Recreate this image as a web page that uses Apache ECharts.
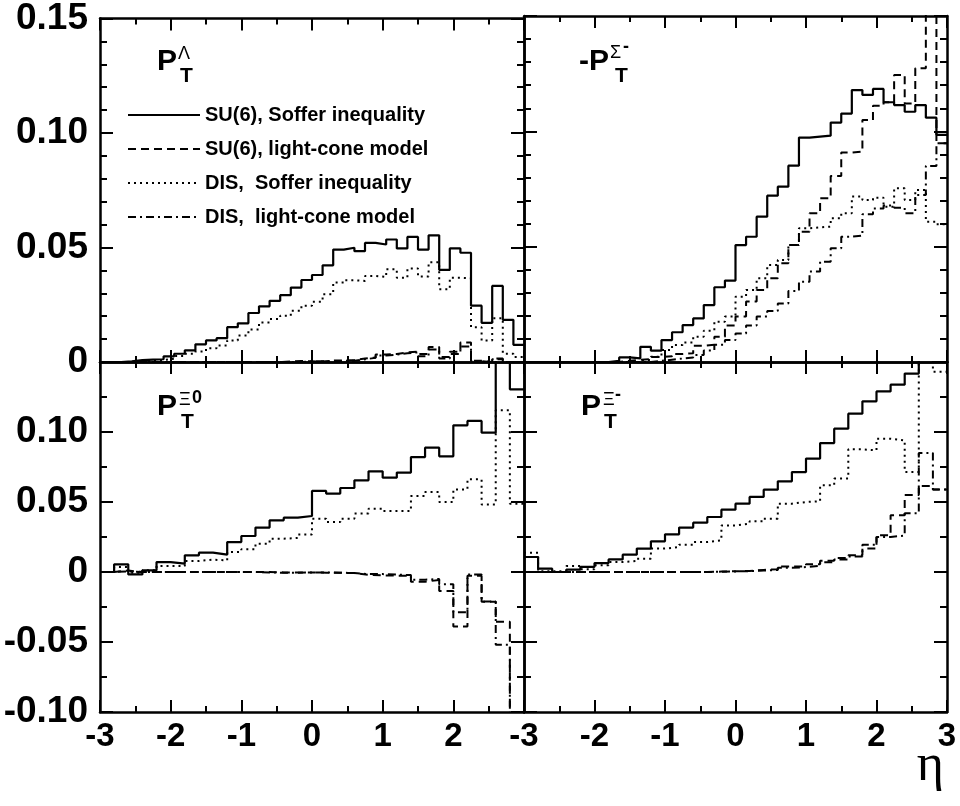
<!DOCTYPE html>
<html><head><meta charset="utf-8">
<script src="https://cdn.jsdelivr.net/npm/echarts@6/dist/echarts.min.js"></script>
<style>html,body{margin:0;padding:0;background:#fff}#c{width:960px;height:806px}</style>
</head><body><div id="c"></div>
<script>
// bin edges
const edgesTop = [-3,-2.85,-2.7,-2.55,-2.4,-2.25,-2.1,-1.95,-1.8,-1.65,-1.5,-1.35,-1.2,-1.05,-0.9,-0.75,-0.6,-0.45,-0.3,-0.15,0,0.15,0.3,0.45,0.6,0.75,0.9,1.05,1.2,1.35,1.5,1.65,1.8,1.95,2.1,2.25,2.4,2.55,2.7,2.85,3];
const edgesBot = [-3,-2.8,-2.6,-2.4,-2.2,-2,-1.8,-1.6,-1.4,-1.2,-1,-0.8,-0.6,-0.4,-0.2,0,0.2,0.4,0.6,0.8,1,1.2,1.4,1.6,1.8,2,2.2,2.4,2.6,2.8,3];

const seriesNames = ['SU(6), Soffer inequality','SU(6), light-cone model','DIS,  Soffer inequality','DIS,  light-cone model'];
const xTickLabels = ['-3','-2','-1','0','1','2','3'];

// Lambda panel (top left)
const lamSU6Soffer = [0,0,0.0003,0.0008,0.001,0.0012,0.0025,0.0036,0.0051,0.0077,0.0094,0.0104,0.0152,0.0169,0.0214,0.0243,0.0267,0.0292,0.0325,0.0358,0.038,0.0422,0.0491,0.0499,0.0484,0.052,0.0513,0.0535,0.0496,0.0546,0.0491,0.0553,0.0402,0.0496,0.0477,0.0246,0.0171,0.0332,0.0184,0.0075];
const lamSU6LC = [0,0,0,0,0,0,0,0,0,0,0,0,0,0,0,0,0,0.0002,0.0004,0.0003,0.0002,0.0006,0.0007,0.0009,0.0015,0.002,0.0033,0.0035,0.0042,0.0045,0.0035,0.0065,0.0022,0.0045,0.0085,0.0005,0,0.0015,0,0];
const lamDISSoffer = [0,0,0,0.0003,0.0006,0.0009,0.0014,0.0026,0.0036,0.0046,0.006,0.0072,0.0094,0.0116,0.0142,0.0173,0.0188,0.0202,0.0224,0.0246,0.0263,0.0296,0.0347,0.0357,0.0354,0.0376,0.0371,0.0405,0.0368,0.0408,0.0373,0.0436,0.0318,0.0368,0.0366,0.0152,0.0094,0.0191,0.0036,0.0022];
const lamDISLC = [0,0,0,0,0,0,0,0,0,0,0,0,0,0,0,0,0,0,0,0.0003,0.0003,0.0003,0.0005,0.0005,0.0012,0.0018,0.0028,0.0032,0.0038,0.0042,0.0025,0.0055,0.0015,0.0035,0.0068,0.0003,0,0.0012,0,0];

// Sigma- panel (top right), plotted as -P
const sigSU6Soffer = [0,0,0,0,0,0,0,0,0.0005,0.002,0.0016,0.0066,0.0049,0.0095,0.0129,0.016,0.0189,0.0247,0.0324,0.0353,0.0507,0.0543,0.063,0.0721,0.076,0.0851,0.0973,0.0977,0.0981,0.1038,0.1077,0.1179,0.1158,0.1184,0.1126,0.1114,0.1085,0.1114,0.1059,0.0985];
const sigSU6LC = [0,0,0,0,0,0,0,0,0,0.0005,0.001,0.0012,0.0022,0.0025,0.0035,0.0038,0.007,0.0075,0.011,0.0158,0.0197,0.0262,0.0312,0.0363,0.0428,0.0507,0.0565,0.0645,0.071,0.0806,0.0908,0.0912,0.1049,0.1111,0.1126,0.1244,0.1121,0.1273,0.2,0.0948];
const sigDISSoffer = [0,0,0,0,0,0,0,0,0,0,0,0.0009,0.0023,0.0052,0.0074,0.0085,0.011,0.0136,0.0175,0.0197,0.0283,0.0312,0.0363,0.042,0.0442,0.0507,0.058,0.0584,0.0587,0.0623,0.0645,0.0717,0.0702,0.0712,0.0673,0.0753,0.0702,0.0746,0.0608,0.0597];
const sigDISLC = [0,0,0,0,0,0,0,0,0,0,0,0,0.0005,0.001,0.0015,0.002,0.003,0.005,0.0075,0.0095,0.0124,0.0158,0.0197,0.0221,0.0254,0.0308,0.0348,0.0392,0.0435,0.0493,0.0543,0.0548,0.064,0.0666,0.0678,0.0669,0.0645,0.0724,0.085,0.0948];

// Xi0 panel (bottom left)
const xi0SU6Soffer = [0,0.0055,-0.0017,0.0012,0.0071,0.006,0.0119,0.0138,0.0124,0.0214,0.0257,0.0317,0.0369,0.0388,0.04,0.0579,0.056,0.06,0.0655,0.0719,0.0674,0.071,0.0821,0.0888,0.0826,0.1048,0.1079,0.0995,0.2,0.1305];
const xi0SU6LC = [0,0.001,0,0,0,0,0,0,0,0,0,0,-0.0003,-0.0003,-0.0003,-0.0005,-0.0005,-0.0008,-0.002,-0.0024,-0.0026,-0.0026,-0.0069,-0.0057,-0.0136,-0.039,-0.0026,-0.0212,-0.0355,-0.15];
const xi0DISSoffer = [0,0.0036,-0.0005,0.0012,0.0043,0.0043,0.0079,0.0088,0.0083,0.0143,0.0162,0.0202,0.0238,0.0243,0.0267,0.0381,0.0357,0.0381,0.0417,0.0452,0.0436,0.0436,0.0543,0.0571,0.05,0.059,0.0662,0.0483,0.1155,0.0488];
const xi0DISLC = [0,0.0005,0,0,0,0,0,0,0,0,0,-0.0003,-0.0005,-0.0005,-0.0003,-0.0003,-0.0005,-0.0008,-0.0015,-0.0015,-0.0018,-0.0022,-0.0055,-0.005,-0.0088,-0.0288,-0.0018,-0.021,-0.052,-0.15];

// Xi- panel (bottom right)
const ximSU6Soffer = [0.0107,0.0024,0,0.0017,0.0036,0.0064,0.009,0.0124,0.0167,0.0219,0.0269,0.0317,0.0352,0.0393,0.0445,0.0488,0.0536,0.0588,0.0648,0.0714,0.081,0.0921,0.1024,0.1131,0.1219,0.129,0.1338,0.1417,0.17,0.18];
const ximSU6LC = [0,0,0,0,0,0,0,0,0,0,0,0,0,0.0003,0.0005,0.0008,0.0015,0.002,0.004,0.004,0.0055,0.008,0.01,0.012,0.0167,0.0262,0.0405,0.055,0.0614,0.059];
const ximDISSoffer = [0.0138,0.0005,0.0005,0.0043,0.0019,0.0048,0.0071,0.0079,0.0095,0.0167,0.0179,0.0195,0.0214,0.0226,0.0333,0.0345,0.0362,0.0381,0.0488,0.05,0.0505,0.0619,0.0667,0.0876,0.0869,0.0952,0.094,0.0714,0.2,0.143];
const ximDISLC = [0,0,0,0,0,0,0,0,0,0,0,0,0,0.0002,0.0004,0.0006,0.001,0.0015,0.003,0.0035,0.0045,0.007,0.009,0.011,0.0195,0.025,0.026,0.042,0.085,0.059];

const FONT = 'Liberation Sans';
const dashTypes = ['solid', [8,5], [2,4], [8,4,2,4]];

function hist(edges, vals) {
  const pts = vals.map((v, i) => [edges[i], v]);
  pts.push([edges[edges.length - 1], vals[vals.length - 1]]);
  return pts;
}

const panels = [
  {edges: edgesTop, data: [lamSU6Soffer, lamSU6LC, lamDISSoffer, lamDISLC]},
  {edges: edgesTop, data: [sigSU6Soffer, sigSU6LC, sigDISSoffer, sigDISLC]},
  {edges: edgesBot, data: [xi0SU6Soffer, xi0SU6LC, xi0DISSoffer, xi0DISLC]},
  {edges: edgesBot, data: [ximSU6Soffer, ximSU6LC, ximDISSoffer, ximDISLC]}
];

const grids = [
  {left: 100, top: 16, width: 424, height: 346},
  {left: 524, top: 16, width: 423, height: 346},
  {left: 100, top: 362, width: 424, height: 350},
  {left: 524, top: 362, width: 423, height: 350}
];

const lineAx = {show: true, onZero: false, lineStyle: {color: '#000', width: 2.5}};
const tickStyle = {color: '#000', width: 2};
const xLabelStyle = {color: '#000', fontFamily: FONT, fontWeight: 'bold', fontSize: 33};
const yLabelStyle = {color: '#000', fontFamily: FONT, fontWeight: 'bold', fontSize: 37};

const xAxes = [], yAxes = [];
grids.forEach((g, gi) => {
  const isBottom = gi >= 2, isLeft = gi % 2 === 0;
  ['bottom', 'top'].forEach(pos => {
    xAxes.push({
      type: 'value', gridIndex: gi, position: pos, min: -3, max: 3, interval: 1,
      axisLine: lineAx,
      axisTick: {show: true, inside: true, length: 12, lineStyle: tickStyle},
      minorTick: {show: true, splitNumber: 2, length: 6, lineStyle: tickStyle},
      splitLine: {show: false}, minorSplitLine: {show: false},
      axisLabel: Object.assign({
        show: isBottom && pos === 'bottom', showMaxLabel: !isLeft, showMinLabel: true, margin: 8,
        formatter: v => xTickLabels[Math.round(v) + 3]
      }, xLabelStyle)
    });
  });
  ['left', 'right'].forEach(pos => {
    yAxes.push({
      type: 'value', gridIndex: gi, position: pos,
      min: isBottom ? -0.1 : 0, max: 0.15, interval: 0.05,
      axisLine: lineAx,
      axisTick: {show: true, inside: true, length: 13, lineStyle: tickStyle},
      minorTick: {show: true, splitNumber: isBottom ? 2 : 5, length: 7, lineStyle: tickStyle},
      splitLine: {show: false}, minorSplitLine: {show: false},
      axisLabel: Object.assign({
        show: isLeft && pos === 'left', showMaxLabel: !isBottom, margin: 12,
        formatter: v => Math.abs(v) < 1e-9 ? '0' : v.toFixed(2)
      }, yLabelStyle)
    });
  });
});

const series = [];
panels.forEach((p, gi) => {
  p.data.forEach((vals, si) => {
    series.push({
      type: 'line', name: seriesNames[si], xAxisIndex: gi * 2, yAxisIndex: gi * 2,
      step: 'end', symbol: 'none', clip: true, silent: true,
      data: hist(p.edges, vals),
      lineStyle: {color: '#000', width: si === 0 ? 2.2 : 2, type: dashTypes[si]},
      itemStyle: {color: '#000'},
      z: 4 - si
    });
  });
});

function txt(x, y, text, font, align) {
  return {type: 'text', x: x, y: y, z: 100,
    style: {text: text, font: font, fill: '#000', align: align || 'left', verticalAlign: 'middle',
            textAlign: align || 'left', textVerticalAlign: 'middle'}};
}
const bigF = 'bold 30px "Liberation Sans"';
const greekF = '18px "Liberation Sans"';
const subF = 'bold 21px "Liberation Sans"';
const supF = 'bold 18px "Liberation Sans"';

const graphics = [
  txt(157, 62, 'P', bigF), txt(178, 54, 'Λ', greekF), txt(180, 76, 'T', subF),
  txt(579, 62, '-P', bigF), txt(610, 53, 'Σ', greekF), txt(623, 47, '-', supF), txt(615, 76, 'T', subF),
  txt(157, 407, 'P', bigF), txt(179, 400, 'Ξ', greekF), txt(192, 398, '0', supF), txt(181, 422, 'T', subF),
  txt(581, 407, 'P', bigF), txt(603, 400, 'Ξ', greekF), txt(615, 395, '-', supF), txt(604, 422, 'T', subF),
  txt(944, 766, 'η', '52px "Liberation Serif"', 'right')
];

const chart = echarts.init(document.getElementById('c'), null, {renderer: 'canvas'});
chart.setOption({
  animation: false,
  backgroundColor: '#fff',
  grid: grids,
  xAxis: xAxes,
  yAxis: yAxes,
  legend: {
    data: seriesNames, orient: 'vertical', left: 122, top: 100,
    itemWidth: 72, itemHeight: 20, itemGap: 14, selectedMode: false,
    itemStyle: {opacity: 0}, lineStyle: {width: 2},
    textStyle: {fontFamily: FONT, fontWeight: 'bold', fontSize: 20, color: '#000'}
  },
  series: series,
  graphic: graphics
});
</script>
</body></html>
